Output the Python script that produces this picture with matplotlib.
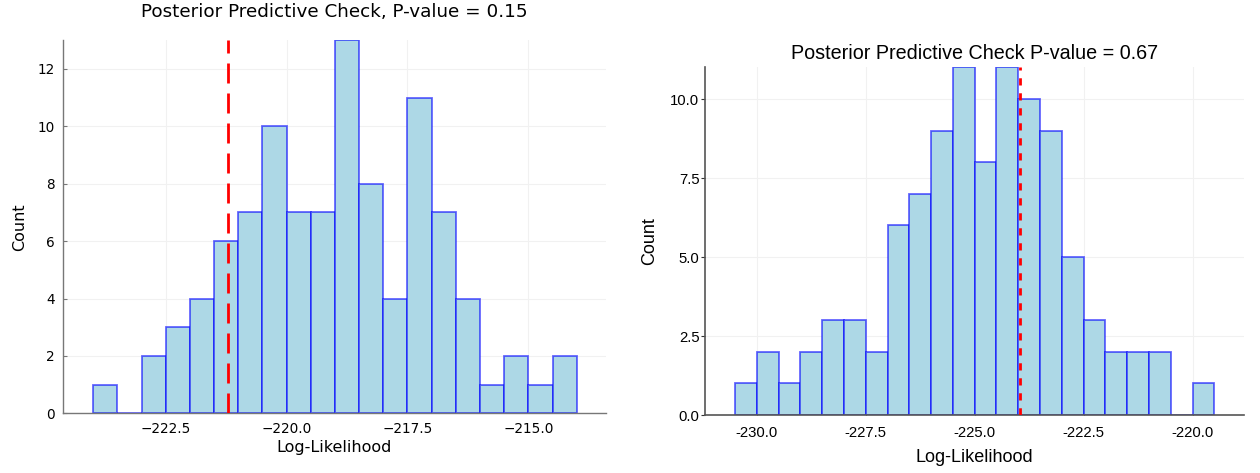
import numpy as np
import matplotlib
matplotlib.use("Agg")
import matplotlib.pyplot as plt
from matplotlib.ticker import FuncFormatter, FixedLocator

# ---------------- data ----------------
left_bin_start = -224.0
left_bin_width = 0.5
left_counts = [1, 0, 2, 3, 4, 6, 7, 10, 7, 7, 13, 8, 4, 11, 7, 4, 1, 2, 1, 2]
left_observed = -221.22
left_title = "Posterior Predictive Check, P-value = 0.15"
left_xticks = [-222.5, -220.0, -217.5, -215.0]
left_yticks = [0, 2, 4, 6, 8, 10, 12]

right_bin_start = -230.5
right_bin_width = 0.5
right_counts = [1, 2, 1, 2, 3, 3, 2, 6, 7, 9, 11, 8, 11, 10, 9, 5, 3, 2, 2, 2, 0, 1]
right_observed = -223.95
right_title = "Posterior Predictive Check P-value = 0.67"
right_xticks = [-230.0, -227.5, -225.0, -222.5, -220.0]
right_yticks = [0.0, 2.5, 5.0, 7.5, 10.0]

xlabel = "Log-Likelihood"
ylabel = "Count"

FILL = "#add8e6"
EDGE = (0.0, 0.0, 1.0, 0.6)
GRID = "#f1f1f1"

fig = plt.figure(figsize=(12.6, 4.73), dpi=100)

# ---------------- left panel ----------------
axL = fig.add_axes([0.0502, 0.1262, 0.4305, 0.7886])
edgesL = left_bin_start + left_bin_width * np.arange(len(left_counts) + 1)
axL.hist(edgesL[:-1], bins=edgesL, weights=left_counts, color=FILL,
         edgecolor=EDGE, linewidth=1.3, zorder=2)
axL.axvline(left_observed, color="red", linewidth=2.0, dashes=(7.2, 3.6), zorder=3)
axL.set_xlim(-224.62, -213.4)
axL.set_ylim(0, max(left_counts))
axL.xaxis.set_major_locator(FixedLocator(left_xticks))
axL.yaxis.set_major_locator(FixedLocator(left_yticks))
axL.xaxis.set_major_formatter(FuncFormatter(lambda v, p: f"{v:.1f}".replace("-", "\u2212")))
axL.set_axisbelow(True)
axL.grid(True, color=GRID, linewidth=0.8)
for s in ["top", "right"]:
    axL.spines[s].set_visible(False)
for s in ["left", "bottom"]:
    axL.spines[s].set_color("#777777")
    axL.spines[s].set_linewidth(1.0)
axL.tick_params(direction="in", length=3, width=0.8, color="#777777",
                labelsize=9.8, pad=6, labelcolor="black")
for t in axL.get_xticklabels() + axL.get_yticklabels():
    t.set_fontfamily("DejaVu Sans")
axL.set_title(left_title, fontsize=13.2, fontfamily="DejaVu Sans", y=1.076,
              va="center", pad=0)
axL.set_xlabel(xlabel, fontsize=11.5, fontfamily="DejaVu Sans", va="center")
axL.xaxis.set_label_coords(0.5, -33.7 / 373)
axL.set_ylabel(ylabel, fontsize=11.5, fontfamily="DejaVu Sans", va="center", ha="center")
axL.yaxis.set_label_coords(-0.0798, 0.5)

# ---------------- right panel ----------------
axR = fig.add_axes([0.5595, 0.1226, 0.4278, 0.7349])
edgesR = right_bin_start + right_bin_width * np.arange(len(right_counts) + 1)
axR.hist(edgesR[:-1], bins=edgesR, weights=right_counts, color=FILL,
         edgecolor=EDGE, linewidth=1.3, zorder=2)
axR.axvline(right_observed, color="red", linewidth=2.0, dashes=(2.6, 2.8), zorder=3)
axR.set_xlim(-231.19, -218.82)
axR.set_ylim(0, max(right_counts))
axR.xaxis.set_major_locator(FixedLocator(right_xticks))
axR.yaxis.set_major_locator(FixedLocator(right_yticks))
axR.xaxis.set_major_formatter(FuncFormatter(lambda v, p: f"{v:.1f}"))
axR.yaxis.set_major_formatter(FuncFormatter(lambda v, p: f"{v:.1f}"))
axR.set_axisbelow(True)
axR.grid(True, color=GRID, linewidth=0.8)
for s in ["top", "right"]:
    axR.spines[s].set_visible(False)
for s in ["left", "bottom"]:
    axR.spines[s].set_color("#555555")
    axR.spines[s].set_linewidth(1.2)
axR.tick_params(axis="x", direction="in", length=3, width=0.8, color="#333333",
                labelsize=10.7, pad=8, labelcolor="black")
axR.tick_params(axis="y", direction="out", length=3, width=0.8, color="#333333",
                labelsize=10.7, pad=1, labelcolor="black")
for t in axR.get_xticklabels() + axR.get_yticklabels():
    t.set_fontfamily("Liberation Sans")
axR.set_title(right_title, fontsize=14.2, fontfamily="Liberation Sans", y=1.041,
              va="center", pad=0)
axR.set_xlabel(xlabel, fontsize=13, fontfamily="Liberation Sans", va="center")
axR.xaxis.set_label_coords(0.5, -42 / 347.6)
axR.set_ylabel(ylabel, fontsize=13, fontfamily="Liberation Sans", va="center", ha="center")
axR.yaxis.set_label_coords(-0.102, 0.5)

fig.savefig("out.png", dpi=100)
